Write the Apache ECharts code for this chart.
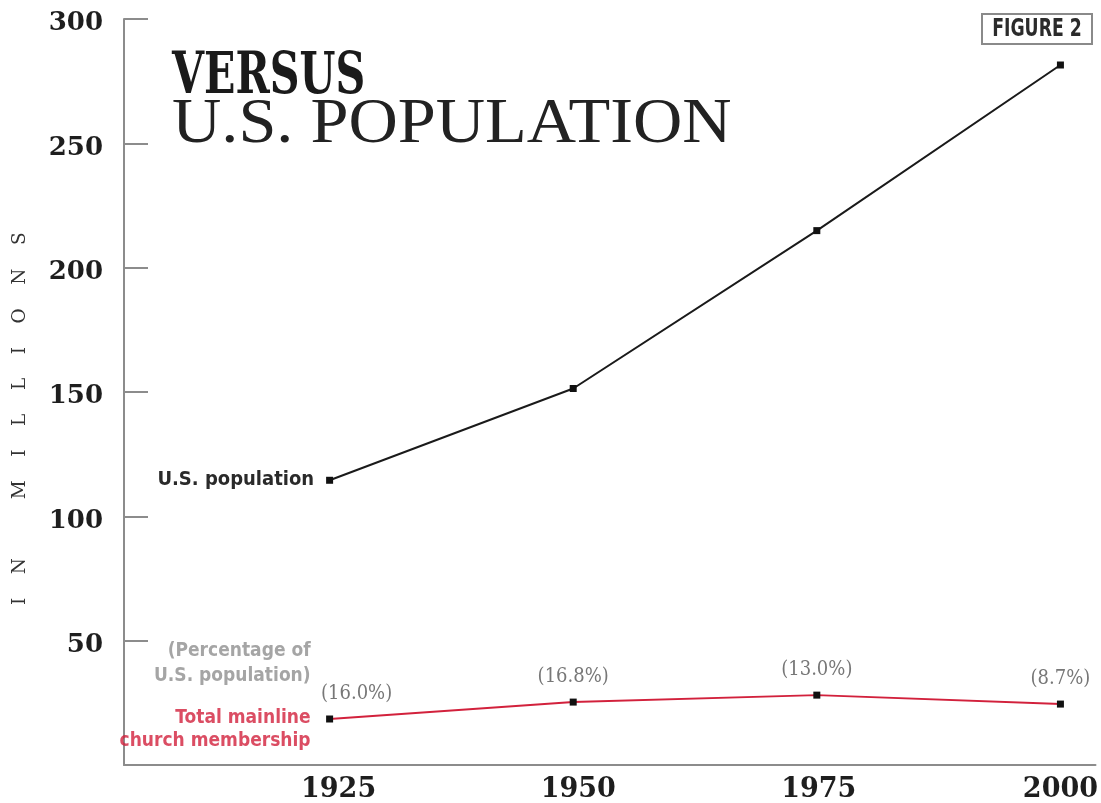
<!DOCTYPE html>
<html><head><meta charset="utf-8">
<script src="https://cdn.jsdelivr.net/npm/echarts@6/dist/echarts.min.js"></script>
<style>html,body{margin:0;padding:0;background:#fff}#c{width:1101px;height:803px}</style>
</head><body><div id="c"></div>
<script>
const years = [1925, 1950, 1975, 2000];
const usPopulation = [114.5, 151.4, 214.9, 281.5];
const churchMembership = [18.5, 25.3, 28.1, 24.5];
const percentLabels = ['(16.0%)', '(16.8%)', '(13.0%)', '(8.7%)'];
const yTicks = [0, 50, 100, 150, 200, 250, 300];

const chart = echarts.init(document.getElementById('c'));
const axisGray = '#8c8c8c';
const red = '#d2213c';
const serifBold = '"DejaVu Serif", serif';
const narrow = '"Liberation Sans Narrow", "DejaVu Sans Condensed", "Roboto Condensed", sans-serif';
const condSerif = '"DejaVu Serif Condensed", "DejaVu Serif", serif';
const yearStyles = ['a', 'b', 'c', 'd'];
const xLabelBase = { fontFamily: serifBold, fontWeight: 'bold', fontSize: 27, color: '#1e1e1e' };

chart.setOption({
  animation: false,
  backgroundColor: '#fff',
  grid: { left: 124, right: 4, top: 19, bottom: 38 },
  xAxis: {
    type: 'value', min: 1903.9, max: 2003.6,
    axisLine: { lineStyle: { color: axisGray, width: 2 } },
    axisTick: { show: false },
    splitLine: { show: false },
    axisLabel: {
      customValues: years, margin: 11,
      formatter: v => '{' + yearStyles[years.indexOf(v)] + '|' + v + '}',
      rich: {
        a: Object.assign({ padding: [0, 0, 0, 18] }, xLabelBase),
        b: Object.assign({ padding: [0, 0, 0, 10] }, xLabelBase),
        c: Object.assign({ padding: [0, 0, 0, 4] }, xLabelBase),
        d: Object.assign({ padding: [0, 0, 0, 0] }, xLabelBase)
      }
    }
  },
  yAxis: {
    type: 'value', min: yTicks[0], max: yTicks[yTicks.length - 1], interval: 50,
    axisLine: { show: true, lineStyle: { color: axisGray, width: 2 } },
    axisTick: { show: true, inside: true, length: 24, lineStyle: { color: axisGray, width: 2 } },
    splitLine: { show: false },
    axisLabel: {
      showMinLabel: false, margin: 21,
      formatter: v => '{v|' + v + '}',
      rich: { v: { padding: [9, 0, 0, 0], fontFamily: serifBold, fontWeight: 'bold', fontSize: 26, color: '#1e1e1e' } }
    }
  },
  series: [
    {
      name: 'U.S. population', type: 'line',
      data: years.map((y, i) => [y, usPopulation[i]]),
      symbol: 'rect', symbolSize: 7, showAllSymbol: true,
      lineStyle: { color: '#1a1a1a', width: 2 },
      itemStyle: { color: '#111' },
      label: {
        show: true, position: 'left', distance: 12,
        formatter: p => p.dataIndex === 0 ? 'U.S. population' : '',
        fontFamily: narrow, fontWeight: 'bold', fontSize: 20, color: '#2a2a2a'
      }
    },
    {
      name: 'Total mainline church membership', type: 'line',
      data: years.map((y, i) => ({
        value: [y, churchMembership[i]],
        label: i === 0 ? { offset: [27, 0] } : {}
      })),
      symbol: 'rect', symbolSize: 7, showAllSymbol: true,
      lineStyle: { color: red, width: 2 },
      itemStyle: { color: '#111' },
      label: {
        show: true, position: 'top', distance: 12,
        formatter: p => percentLabels[p.dataIndex],
        fontFamily: condSerif, fontSize: 20, color: '#777'
      }
    },
    {
      type: 'scatter', symbolSize: 0, silent: true,
      data: [
        { value: [years[0], churchMembership[0]],
          label: { show: true, position: 'left', distance: 19, offset: [0, -55],
            formatter: '(Percentage of\nU.S. population)', align: 'right', lineHeight: 25,
            fontFamily: narrow, fontWeight: 'bold', fontSize: 19, color: '#8e8e8e' } },
        { value: [years[0], churchMembership[0]],
          label: { show: true, position: 'left', distance: 19, offset: [0, 11],
            formatter: 'Total mainline\nchurch membership', align: 'right', lineHeight: 23,
            fontFamily: narrow, fontWeight: 'bold', fontSize: 19, color: red } }
      ]
    }
  ],
  graphic: [
    { type: 'rect', shape: { x: 982, y: 14, width: 110, height: 30 },
      style: { fill: '#fff', stroke: '#8a8a8a', lineWidth: 2 } },
    { type: 'text', x: 1037, y: 30, scaleX: 0.8,
      style: { text: 'FIGURE 2', fontFamily: narrow, fontWeight: 'bold', fontSize: 24, fill: '#2b2b2b',
        align: 'center', verticalAlign: 'middle' } },
    { type: 'text', x: 172, y: 49, scaleX: 0.79,
      style: { text: 'VERSUS', fontFamily: condSerif, fontWeight: 'bold', fontSize: 58, fill: '#1a1a1a',
        align: 'left', verticalAlign: 'top' } },
    { type: 'text', x: 172, y: 93, scaleX: 1.067,
      style: { text: 'U.S. POPULATION', fontFamily: '"Liberation Serif", serif', fontSize: 64, fill: '#222',
        align: 'left', verticalAlign: 'top' } },
    { type: 'text', x: 30, y: 605, rotation: Math.PI / 2,
      style: { text: 'I    N          M    I    L    L    I    O    N    S', fontFamily: '"DejaVu Serif", serif',
        fontSize: 18.5, fill: '#333', verticalAlign: 'bottom', align: 'left' } }
  ]
});
</script></body></html>
